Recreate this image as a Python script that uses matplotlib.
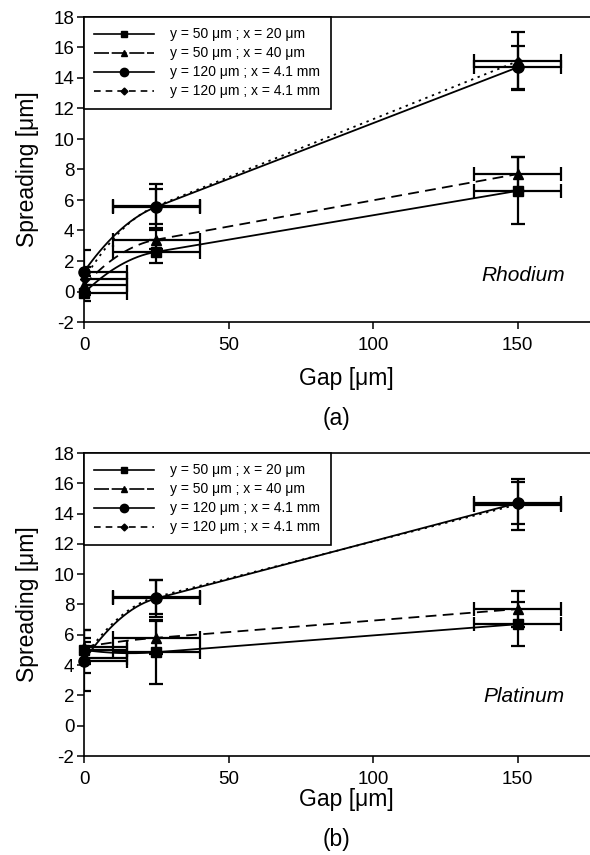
import numpy as np
import matplotlib
matplotlib.use("Agg")
import matplotlib.pyplot as plt
from matplotlib.lines import Line2D

plt.rcParams['font.family'] = ['Liberation Sans', 'DejaVu Sans']
plt.rcParams['axes.unicode_minus'] = False

# ---------------- data ----------------
gap = [0, 25, 150]
gap_err = [15, 15, 15]

labels = ["y = 50 \u03bcm ; x = 20 \u03bcm",
          "y = 50 \u03bcm ; x = 40 \u03bcm",
          "y = 120 \u03bcm ; x = 4.1 mm",
          "y = 120 \u03bcm ; x = 4.1 mm"]

# Rhodium (a)
rh_sq = [-0.1, 2.6, 6.6]
rh_sq_err = [0.5, 0.75, 2.2]
rh_tri = [0.4, 3.4, 7.7]
rh_tri_err = [0.6, 0.6, 1.1]
rh_circ = [1.3, 5.55, 14.7]
rh_circ_err = [1.4, 1.15, 1.4]
rh_dia = [0.8, 5.6, 15.1]
rh_dia_err = [0.8, 1.45, 1.9]

# Platinum (b)
pt_sq = [5.0, 4.85, 6.7]
pt_sq_err = [0.8, 2.1, 1.45]
pt_tri = [5.2, 5.8, 7.7]
pt_tri_err = [1.1, 1.1, 1.2]
pt_circ = [4.3, 8.4, 14.7]
pt_circ_err = [2.0, 1.2, 1.4]
pt_dia = [4.5, 8.5, 14.6]
pt_dia_err = [1.0, 1.1, 1.7]

materials = ["Rhodium", "Platinum"]
panel_tags = ["(a)", "(b)"]
xticks = [0, 50, 100, 150]
yticks = list(range(-2, 19, 2))


def smooth_curve(x, y, xs):
    """Hermite curve through the points: straight last segment,
    quadratic-like first segment (slope continuity at the joint)."""
    x = np.asarray(x, float); y = np.asarray(y, float)
    h = np.diff(x); d = np.diff(y) / h
    n = len(x)
    m = np.zeros(n)
    m[1:] = d[-1]
    m[0] = 2 * d[0] - d[1]
    ys = np.empty_like(xs)
    for i, xv in enumerate(xs):
        k = min(max(np.searchsorted(x, xv) - 1, 0), n - 2)
        t = (xv - x[k]) / h[k]
        h00 = 2 * t**3 - 3 * t**2 + 1; h10 = t**3 - 2 * t**2 + t
        h01 = -2 * t**3 + 3 * t**2; h11 = t**3 - t**2
        ys[i] = h00 * y[k] + h10 * h[k] * m[k] + h01 * y[k + 1] + h11 * h[k] * m[k + 1]
    return ys


fig = plt.figure(figsize=(5.9, 8.55), dpi=100)
W, H = 590.0, 855.0
A_TOP, A_BOT = 17, 322
B_TOP, B_BOT = 453, 756
ax_a = fig.add_axes([84 / W, 1 - A_BOT / H, (590 - 84) / W, (A_BOT - A_TOP) / H])
ax_b = fig.add_axes([84 / W, 1 - B_BOT / H, (590 - 84) / W, (B_BOT - B_TOP) / H])

styles = [
    dict(marker='s', ms=6.8, ls='-'),
    dict(marker='^', ms=7.2, ls=(0, (6, 3.5))),
    dict(marker='o', ms=8, ls='-'),
    dict(marker='D', ms=4.5, ls=(0, (1.3, 2.6))),
]

panels = [
    (ax_a, [(rh_sq, rh_sq_err), (rh_tri, rh_tri_err), (rh_circ, rh_circ_err), (rh_dia, rh_dia_err)], 1.05),
    (ax_b, [(pt_sq, pt_sq_err), (pt_tri, pt_tri_err), (pt_circ, pt_circ_err), (pt_dia, pt_dia_err)], 1.9),
]
label_pos = [(A_TOP, A_BOT, A_BOT + 56, A_BOT + 96),
             (B_TOP, B_BOT, 799, 839)]

xs = np.linspace(0, 150, 300)
for idx, (ax, series, ytxt) in enumerate(panels):
    for (vals, errs), st in zip(series, styles):
        ax.plot(xs, smooth_curve(gap, vals, xs), color='black', lw=1.3, ls=st['ls'], zorder=3)
        ax.errorbar(gap, vals, yerr=errs, xerr=gap_err, fmt='none', ecolor='black',
                    elinewidth=1.6, capsize=5, capthick=1.6, zorder=2)
        ax.plot(gap, vals, ls='none', marker=st['marker'], ms=st['ms'], color='black',
                clip_on=False, zorder=4)
    ax.set_xlim(0, 175)
    ax.set_ylim(-2, 18)
    ax.set_xticks(xticks)
    ax.set_yticks(yticks)
    ax.tick_params(direction='out', length=5, width=1.1, labelsize=13.5)
    ax.tick_params(axis='x', pad=5.5)
    ax.tick_params(axis='y', pad=2)
    for s in ['left', 'bottom', 'top']:
        ax.spines[s].set_linewidth(1.2)
    ax.spines['right'].set_visible(False)
    ax.text(152, ytxt, materials[idx], style='italic', fontsize=15, ha='center', va='center')

    handles = [
        Line2D([], [], color='black', lw=1.2, ls='-', marker='s', ms=4.5),
        Line2D([], [], color='black', lw=1.2, ls=(0, (9, 1.6)), marker='^', ms=4.5),
        Line2D([], [], color='black', lw=1.2, ls='-', marker='o', ms=6),
        Line2D([], [], color='black', lw=1.2, ls=(0, (4, 3)), marker='D', ms=3.5),
    ]
    leg = ax.legend(handles, labels, loc='upper left', bbox_to_anchor=(0, 1),
                    borderaxespad=0, frameon=True, fancybox=False, framealpha=1,
                    edgecolor='black', fontsize=10, handlelength=4.3,
                    handletextpad=1.15, labelspacing=0.36, borderpad=0.75)
    leg.get_frame().set_linewidth(1.2)

    top_px, bot_px, gap_px, tag_px = label_pos[idx]
    fig.text(28 / W, 1 - (top_px + bot_px) / 2 / H, "Spreading [\u03bcm]", rotation=90,
             fontsize=16.5, ha='center', va='center')
    fig.text(346 / W, 1 - gap_px / H, "Gap [\u03bcm]", fontsize=16.5,
             ha='center', va='center')
    fig.text(336 / W, 1 - tag_px / H, panel_tags[idx], fontsize=16.5,
             ha='center', va='center')

fig.savefig("out.png", dpi=100)
